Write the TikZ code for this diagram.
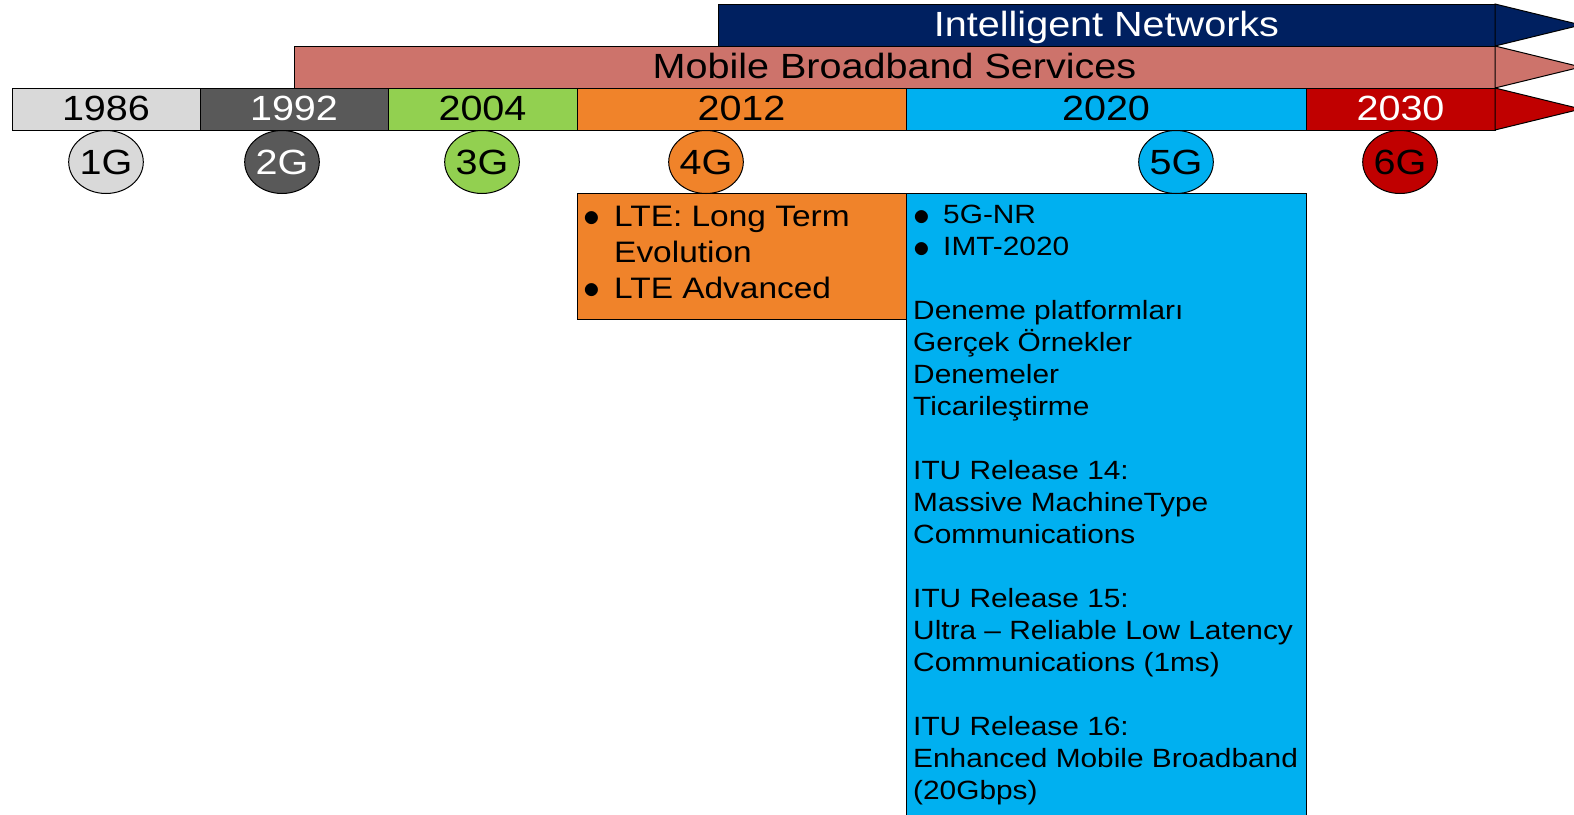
\documentclass[tikz,border=0pt]{standalone}
\usepackage{fontspec}
\setmainfont[FakeStretch=1.13]{Liberation Sans}
\usetikzlibrary{positioning,shapes.geometric}
\definecolor{yr86}{HTML}{D9D9D9}
\definecolor{yr92}{HTML}{595959}
\definecolor{yr04}{HTML}{92D050}
\definecolor{yr12}{HTML}{F0832A}
\definecolor{yr20}{HTML}{00B0F0}
\definecolor{yr30}{HTML}{C00000}
\definecolor{mbb}{HTML}{CD736B}
\definecolor{intel}{HTML}{002060}
\tikzstyle{yearbox} = [draw, rectangle, line width=1pt, minimum height=42pt, inner sep=0pt, outer sep=0pt, font=\fontsize{35}{35}\selectfont, text height=25pt, text depth=2pt]
\tikzstyle{gen} = [draw, ellipse, line width=1pt, minimum width=71pt, minimum height=63pt, inner sep=0pt, font=\fontsize{35}{35}\selectfont, text height=25pt, text depth=0pt]
\tikzstyle{infobox} = [draw, rectangle, line width=1pt, inner sep=0pt, outer sep=0pt, anchor=north west]
\tikzstyle{ltetext} = [anchor=base west, inner sep=0pt, font=\fontsize{29.6}{36}\selectfont]
\tikzstyle{nrtext} = [anchor=base west, inner sep=0pt, font=\fontsize{26.4}{32}\selectfont]
\newcommand{\blt}[2]{\makebox[#1][l]{\raisebox{#2}{\scalebox{1.35}{$\bullet$}}}}

\begin{document}
\begin{tikzpicture}[x=1pt,y=-1pt]
		\useasboundingbox (0,0) rectangle (1574,814);

		% info boxes (drawn first, circles sit on top)
		\node[infobox,fill=yr12,minimum width=329pt,minimum height=126pt] (ltebox) at (577,193) {};
		\node[infobox,fill=yr20,minimum width=400pt,minimum height=640pt] (nrbox) at (906,193) {};

		% year row
		\node[yearbox,fill=yr86,minimum width=188pt,anchor=north west] (y1986) at (12,88) {1986};
		\node[yearbox,fill=yr92,text=white,minimum width=188pt,right=0pt of y1986] (y1992) {1992};
		\node[yearbox,fill=yr04,minimum width=189pt,right=0pt of y1992] (y2004) {2004};
		\node[yearbox,fill=yr12,minimum width=329pt,right=0pt of y2004] (y2012) {2012};
		\node[yearbox,fill=yr20,minimum width=400pt,right=0pt of y2012] (y2020) {2020};
		\node[yearbox,fill=yr30,text=white,minimum width=189pt,right=0pt of y2020] (y2030) {2030};
		\draw[line width=1pt,fill=yr30] (y2030.north east) -- ([xshift=86pt]y2030.east) -- (y2030.south east) -- cycle;

		% bands
		\node[yearbox,fill=mbb,minimum width=1201pt,anchor=north west] (mobile) at (294,46) {Mobile Broadband Services};
		\draw[line width=1pt,fill=mbb] (mobile.north east) -- ([xshift=86pt]mobile.east) -- (mobile.south east) -- cycle;
		\node[yearbox,fill=intel,text=white,minimum width=777pt,anchor=north west] (intel) at (718,4) {Intelligent Networks};
		\draw[line width=1pt,fill=intel] (intel.north east) -- ([xshift=86pt]intel.east) -- (intel.south east) -- cycle;

		% generations
		\node[gen,fill=yr86] (g1) at (106,162) {1G};
		\node[gen,fill=yr92,text=white] (g2) at (282,162) {2G};
		\node[gen,fill=yr04] (g3) at (482,162) {3G};
		\node[gen,fill=yr12] (g4) at (706,162) {4G};
		\node[gen,fill=yr20] (g5) at (1176,162) {5G};
		\node[gen,fill=yr30] (g6) at (1400,162) {6G};

		% 4G text
		\node[ltetext] (lte0) at (583,226) {\blt{31pt}{0pt}LTE: Long Term};
		\node[ltetext] (lte1) at (614,262) {Evolution};
		\node[ltetext] (lte2) at (583,298) {\blt{31pt}{0pt}LTE Advanced};

		% 5G text
		\foreach \i/\txt in {0/\blt{30pt}{-2pt}5G-NR, 1/\blt{30pt}{-2pt}IMT-2020,
				3/Deneme platformları, 4/Gerçek Örnekler, 5/Denemeler, 6/Ticarileştirme,
				8/ITU Release 14:, 9/Massive MachineType, 10/Communications,
				12/ITU Release 15:, 13/Ultra – Reliable Low Latency, 14/Communications (1ms),
				16/ITU Release 16:, 17/Enhanced Mobile Broadband, 18/(20Gbps)}
			\node[nrtext] (nr\i) at (913,223+32*\i) {\txt};
	\end{tikzpicture}
\end{document}
